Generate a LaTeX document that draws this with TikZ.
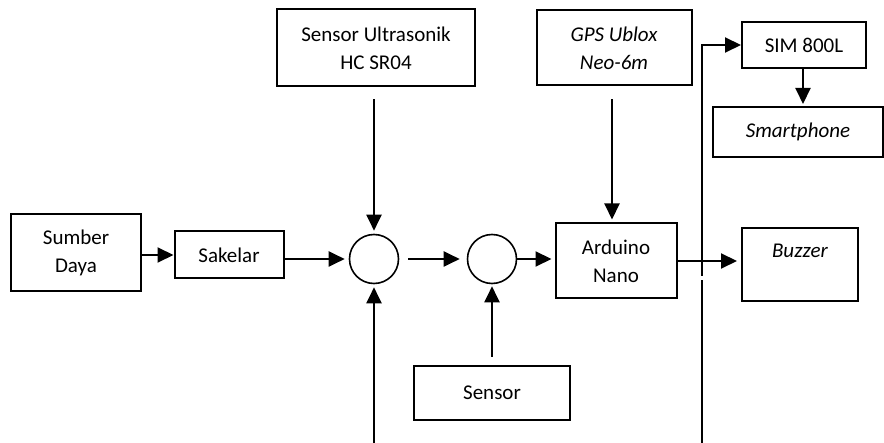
\documentclass[tikz,border=0pt]{standalone}
\usepackage{fontspec}
\setmainfont{Carlito}
\usetikzlibrary{arrows.meta, positioning, calc}
\tikzset{
  blok/.style={draw=black, line width=1pt, align=center, inner sep=2pt,
               font=\fontsize{10.5pt}{14pt}\selectfont},
  junc/.style={draw=black, circle, line width=0.8pt, minimum size=24.5pt, inner sep=0pt},
  flow/.style={-{Triangle[length=8pt, width=7.5pt]}, line width=1pt},
}

\begin{document}
\begin{tikzpicture}[x=0.5pt, y=-0.5pt]
  \useasboundingbox (0,0) rectangle (884,443);
  \node[blok, minimum width=65pt, minimum height=38.5pt] (sumber) at (76,253) {Sumber\\Daya};
  \node[blok, minimum width=54.5pt, minimum height=23.5pt] (sakelar) at (229,255) {Sakelar};
  \node[blok, minimum width=99pt, minimum height=38.5pt] (ultra) at (376,48) {Sensor Ultrasonik\\HC SR04};
  \node[junc] (c1) at (374,259) {};
  \node[junc] (c2) at (492,259) {};
  \node[blok, minimum width=78pt, minimum height=27pt] (sensor) at (492,393) {Sensor};
  \node[blok, minimum width=60.5pt, minimum height=37.5pt] (arduino) at (616,261) {Arduino\\Nano};
  \node[blok, minimum width=77.5pt, minimum height=37.5pt] (gps) at (614,48) {\textit{GPS Ublox}\\\textit{Neo-6m}};
  \node[blok, minimum width=58pt, minimum height=36.5pt] (buzzer) at (800,265) {\textit{Buzzer}\\\mbox{}};
  \node[blok, minimum width=62pt, minimum height=23pt] (sim) at (804,45) {SIM 800L};
  \node[blok, minimum width=85pt, minimum height=25pt] (smart) at (798,132) {\textit{Smartphone}};
  \coordinate (bot1) at (374,443);
  \coordinate (bot2) at (702,443);
  \coordinate (gapb) at (702,280);
  \coordinate (gapt) at (702,276);
  % arus utama
  \draw[flow] (sumber.east |- sakelar) -- (sakelar.west);
  \draw[flow, shorten >=2pt] (sakelar.east |- c1) -- (c1);
  \draw[flow, shorten <=4.5pt, shorten >=3.5pt] (c1) -- (c2);
  \draw[flow, shorten >=1.5pt] (c2) -- (c2 -| arduino.west);
  \draw[flow, shorten >=2pt] (arduino.east) -- (arduino.east -| buzzer.west);
  % masukan
  \draw[flow, shorten <=6pt, shorten >=1.5pt] (ultra.south -| c1) -- (c1);
  \draw[flow, shorten >=1.5pt] (bot1) -- (c1);
  \draw[flow, shorten <=4pt, shorten >=1pt] (sensor) -- (c2);
  \draw[flow, shorten <=6.5pt, shorten >=1.5pt] (gps.south -| 612,0) -- (arduino.north -| 612,0);
  % jalur ke SIM
  \draw[line width=1pt] (bot2) -- (gapb);
  \draw[flow] (gapt) |- (sim.west);
  \draw[flow, shorten >=1pt] (sim.south -| 803,0) -- (smart.north -| 803,0);
\end{tikzpicture}
\end{document}
